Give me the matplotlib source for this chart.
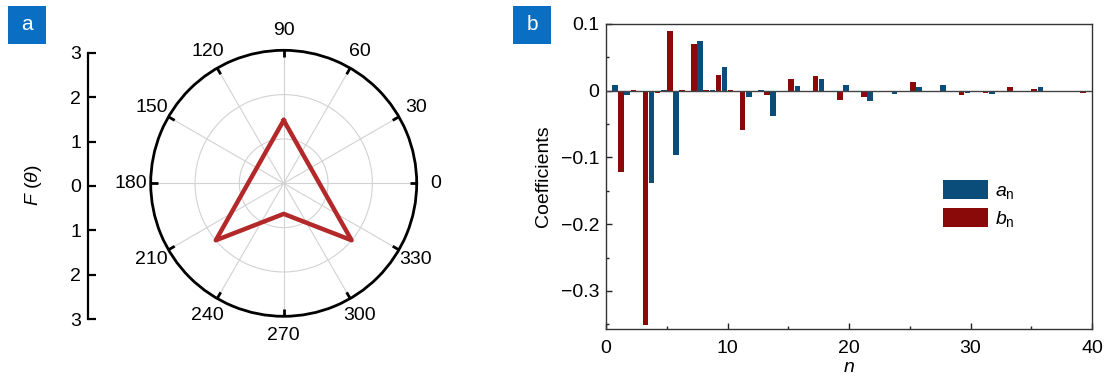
import numpy as np
import matplotlib
matplotlib.use("Agg")
import matplotlib.pyplot as plt
from matplotlib.patches import Patch, Rectangle

plt.rcParams['font.family'] = ['Liberation Sans', 'DejaVu Sans']
plt.rcParams['mathtext.fontset'] = 'custom'
plt.rcParams['mathtext.rm'] = 'Liberation Sans'
plt.rcParams['mathtext.it'] = 'Liberation Sans:italic'

# ---------------- data ----------------
# polar pattern vertices (degrees, radius)
theta_deg = [90, 220, 270, 320, 90]
F_theta = [1.42, 2.0, 0.69, 2.0, 1.42]
theta_labels = [0, 30, 60, 90, 120, 150, 180, 210, 240, 270, 300, 330]
r_ticks = [1, 2, 3]
left_ticks = [-3, -2, -1, 0, 1, 2, 3]

# Fourier coefficients, n = 1..40
n = list(range(1, 41))
a_n = [0.008, -0.007, -0.001, -0.138, 0.001, -0.097, -0.002, 0.074, 0.001, 0.035,
       0.0, -0.010, 0.001, -0.038, -0.002, 0.007, 0.0, 0.017, 0.0, 0.008,
       0.0, -0.015, 0.0, -0.005, 0.0, 0.005, 0.0, 0.008, 0.0, -0.004,
       0.0, -0.005, 0.0, -0.001, 0.0, 0.006, 0.0, 0.0, 0.0, -0.002]
b_n = [-0.122, 0.001, -0.351, -0.003, 0.090, 0.001, 0.070, 0.001, 0.024, 0.001,
       -0.059, 0.0, -0.007, 0.0, 0.017, 0.0, 0.022, 0.0, -0.014, 0.0,
       -0.010, 0.0, 0.0, 0.0, 0.013, 0.0, -0.002, 0.0, -0.006, 0.0,
       -0.004, 0.0, 0.006, 0.0, 0.003, 0.0, -0.001, 0.0, -0.004, 0.0]
y_ticks = [-0.3, -0.2, -0.1, 0, 0.1]
y_tick_labels = ['\u22120.3', '\u22120.2', '\u22120.1', '0', '0.1']
x_ticks = [0, 10, 20, 30, 40]

BLUE = '#0b4d7a'
RED = '#8a0a0a'
LINE_RED = '#b3292a'
PANEL = '#0a6fc2'
FS = 14

W, H = 1107, 383
fig = plt.figure(figsize=(W / 100, H / 100), dpi=100)

def fx(px):
    return px / W

def fy(py):
    return 1 - py / H

# ---------------- panel a: polar ----------------
cx, cy, R = 283.7, 183.3, 133.0
axp = fig.add_axes([fx(cx - R), fy(cy + R), 2 * R / W, 2 * R / H], projection='polar')
axp.plot(np.deg2rad(theta_deg), F_theta, color=LINE_RED, lw=3.2, solid_joinstyle='round', zorder=5)
axp.set_ylim(0, 3)
axp.set_yticks(r_ticks)
axp.set_yticklabels([])
axp.set_xticks(np.deg2rad(theta_labels))
axp.set_xticklabels([str(t) for t in theta_labels], fontsize=FS)
axp.grid(True, color='#d2d2d2', lw=0.8)
axp.spines['polar'].set_color('black')
axp.spines['polar'].set_linewidth(2.0)
axp.tick_params(axis='x', length=0, pad=7, colors='black')
# inward tick marks on the outer circle
for t in theta_labels:
    axp.plot([np.deg2rad(t)] * 2, [2.84, 3.0], color='black', lw=2.0,
             solid_capstyle='butt', clip_on=False, zorder=6)
axp.set_facecolor('white')

# left scale axis
axl = fig.add_axes([fx(88.3), fy(319.3), 0.001, (319.3 - 52.7) / H])
axl.set_ylim(-3, 3)
axl.set_xlim(0, 1)
axl.set_yticks(left_ticks)
axl.set_yticklabels([str(abs(t)) for t in left_ticks], fontsize=FS)
axl.set_xticks([])
for s in ['top', 'right', 'bottom']:
    axl.spines[s].set_visible(False)
axl.spines['left'].set_linewidth(1.6)
axl.spines['left'].set_color('black')
axl.tick_params(axis='y', direction='in', length=6, width=1.6, pad=5)
axl.patch.set_visible(False)
fig.text(fx(34), fy(185), r'$F\ (\theta)$', rotation=90, ha='center', va='center', fontsize=FS)

# ---------------- panel b: bars ----------------
L, Rr, T, B = 606, 1092, 24, 329
axb = fig.add_axes([fx(L), fy(B), (Rr - L) / W, (B - T) / H])
nn = np.array(n)
axb.bar(nn - 0.25, a_n, width=0.46, color=BLUE, zorder=3)
axb.bar(nn + 0.25, b_n, width=0.46, color=RED, zorder=3)
axb.axhline(0, color='#444444', lw=1.0, zorder=4)
axb.set_xlim(0, 40)
axb.set_ylim(-0.357, 0.1)
axb.set_yticks(y_ticks)
axb.set_yticklabels(y_tick_labels, fontsize=FS)
axb.set_yticks([-0.35, -0.25, -0.15, -0.05, 0.05], minor=True)
axb.set_xticks(x_ticks)
axb.set_xticklabels([str(t) for t in x_ticks], fontsize=FS)
axb.set_xticks([5, 15, 25, 35], minor=True)
axb.tick_params(which='major', direction='in', length=4, width=1.0, colors='#222222', labelcolor='black')
axb.tick_params(axis='x', which='major', pad=8)
axb.tick_params(axis='y', which='major', pad=5)
axb.tick_params(which='minor', direction='in', length=2.5, width=1.0, colors='#222222')
for s in axb.spines.values():
    s.set_color('#333333')
    s.set_linewidth(1.0)
axb.set_ylabel('Coefficients', fontsize=FS, labelpad=6)
axb.set_xlabel(r'$n$', fontsize=FS, labelpad=1)

handles = [Patch(facecolor=BLUE, edgecolor='none'), Patch(facecolor=RED, edgecolor='none')]
axb.legend(handles, [r'$a_\mathrm{n}$', r'$b_\mathrm{n}$'], loc='upper left',
           bbox_to_anchor=((943 - L) / (Rr - L), (B - 180) / (B - T)),
           frameon=False, fontsize=FS, handlelength=2.3, handleheight=1.15,
           handletextpad=0.35, labelspacing=0.35, borderpad=0, borderaxespad=0)

# ---------------- panel labels ----------------
for x0, lab in [(8, 'a'), (513, 'b')]:
    fig.patches.append(Rectangle((fx(x0), fy(44)), 38 / W, 38 / H, transform=fig.transFigure,
                                 facecolor=PANEL, edgecolor='none'))
    fig.text(fx(x0 + 19), fy(24), lab, color='white', ha='center', va='center', fontsize=15)

fig.savefig('out.png', dpi=100)
